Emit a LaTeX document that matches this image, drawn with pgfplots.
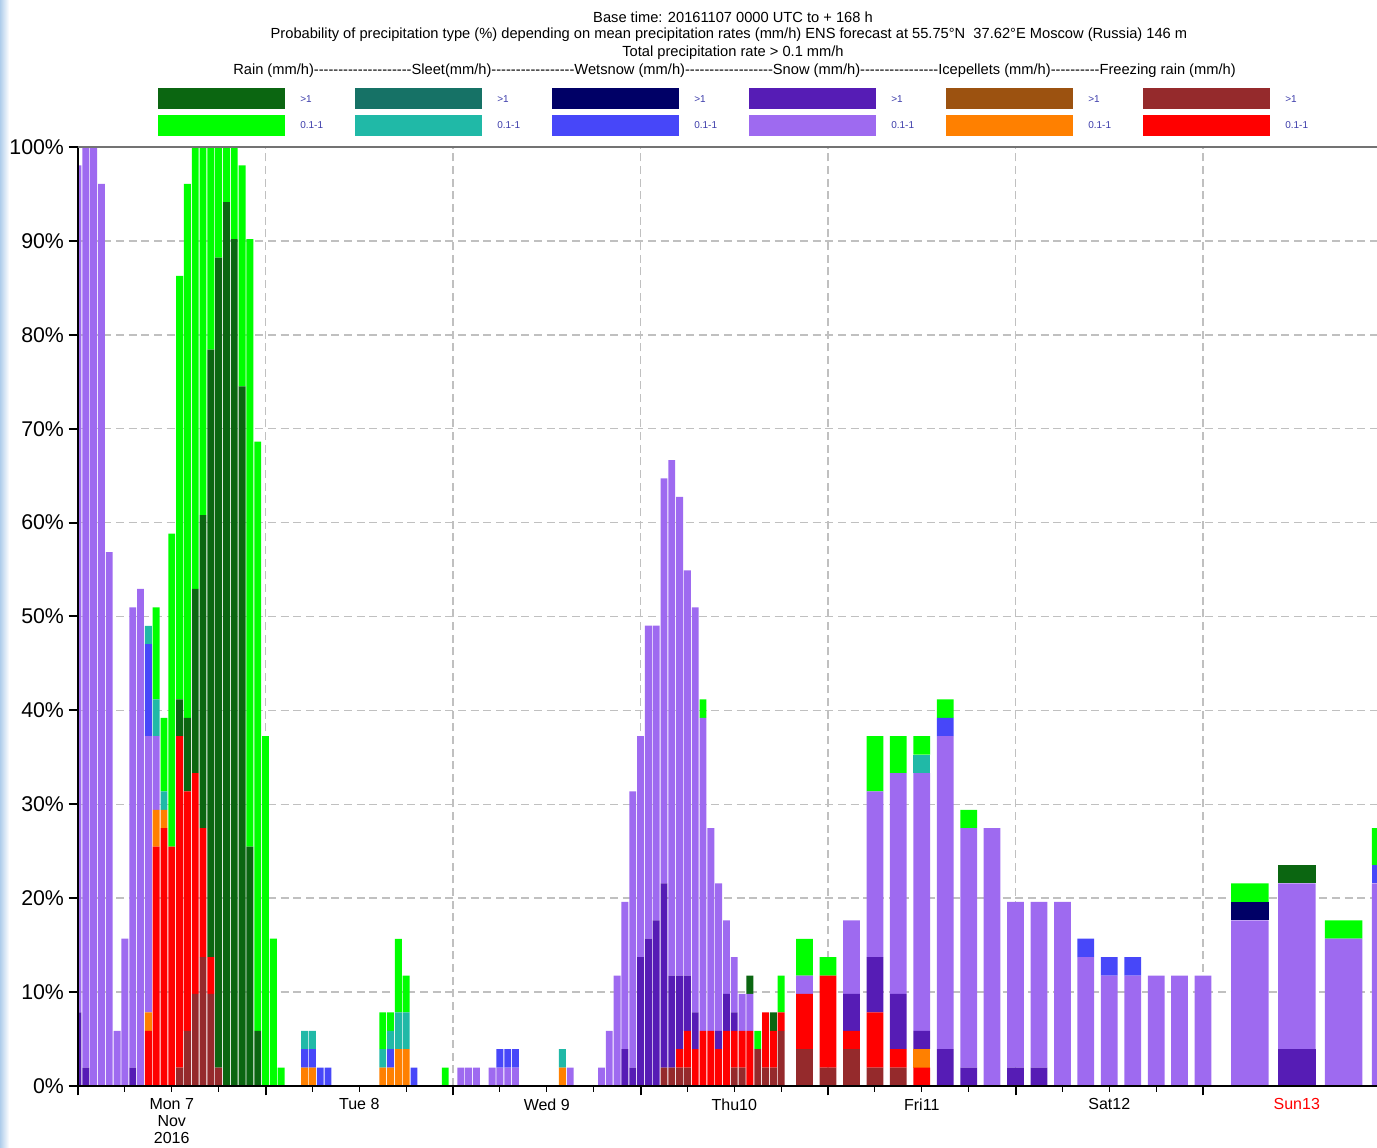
\documentclass[border=0pt]{standalone}
\usepackage{fontspec}
\setmainfont{Liberation Sans}
\usepackage{pgfplots}
\pgfplotsset{compat=1.18}
\usepackage{pgfplotstable}

\definecolor{cFRd}{HTML}{952A2C}
\definecolor{cFR}{HTML}{FF0000}
\definecolor{cIPd}{HTML}{9C5210}
\definecolor{cIP}{HTML}{FF8000}
\definecolor{cSNd}{HTML}{561CB5}
\definecolor{cSN}{HTML}{9E6AF0}
\definecolor{cWSd}{HTML}{000066}
\definecolor{cWS}{HTML}{4747F9}
\definecolor{cSLd}{HTML}{167266}
\definecolor{cSL}{HTML}{20B9A7}
\definecolor{cRAd}{HTML}{0B6611}
\definecolor{cRA}{HTML}{00FF00}
\definecolor{gridc}{RGB}{192,192,192}
\definecolor{legtxt}{RGB}{60,60,170}

\newcommand\dsh[1]{\foreach\i in {1,...,#1}{-\kern0pt}}

% hourly steps (percent of members)
\pgfplotstableread{
h FRd FR IPd IP SNd SN WSd WS SLd SL RAd RA
0 0 0 0 0 7.84 90.20 0 0 0 0 0 0
1 0 0 0 0 1.96 98.04 0 0 0 0 0 0
2 0 0 0 0 0 100 0 0 0 0 0 0
3 0 0 0 0 0 96.08 0 0 0 0 0 0
4 0 0 0 0 0 56.86 0 0 0 0 0 0
5 0 0 0 0 0 5.88 0 0 0 0 0 0
6 0 0 0 0 0 15.69 0 0 0 0 0 0
7 0 0 0 0 1.96 49.02 0 0 0 0 0 0
8 0 0 0 0 0 52.94 0 0 0 0 0 0
9 0 5.88 0 1.96 0 29.41 0 9.80 0 1.96 0 0
10 0 25.49 0 3.92 0 7.84 0 0 0 3.92 0 9.80
11 0 27.45 0 1.96 0 0 0 0 0 1.96 0 7.84
12 0 25.49 0 0 0 0 0 0 0 0 0 33.33
13 1.96 35.29 0 0 0 0 0 0 0 0 3.92 45.10
14 5.88 25.49 0 0 0 0 0 0 0 0 7.84 56.86
15 9.80 23.53 0 0 0 0 0 0 0 0 19.61 47.06
16 13.73 13.73 0 0 0 0 0 0 0 0 33.33 39.22
17 9.80 3.92 0 0 0 0 0 0 0 0 64.71 21.57
18 1.96 0 0 0 0 0 0 0 0 0 86.27 11.76
19 0 0 0 0 0 0 0 0 0 0 94.12 5.88
20 0 0 0 0 0 0 0 0 0 0 90.20 9.80
21 0 0 0 0 0 0 0 0 0 0 74.51 23.53
22 0 0 0 0 0 0 0 0 0 0 25.49 64.71
23 0 0 0 0 0 0 0 0 0 0 5.88 62.75
24 0 0 0 0 0 0 0 0 0 0 0 37.25
25 0 0 0 0 0 0 0 0 0 0 0 15.69
26 0 0 0 0 0 0 0 0 0 0 0 1.96
29 0 0 0 1.96 0 0 0 1.96 0 1.96 0 0
30 0 0 0 1.96 0 0 0 1.96 0 1.96 0 0
31 0 0 0 0 0 0 0 1.96 0 0 0 0
32 0 0 0 0 0 0 0 1.96 0 0 0 0
39 0 0 0 1.96 0 0 0 0 0 1.96 0 3.92
40 0 0 0 1.96 0 0 0 1.96 0 1.96 0 1.96
41 0 0 0 3.92 0 0 0 0 0 3.92 0 7.84
42 0 0 0 3.92 0 0 0 0 0 3.92 0 3.92
43 0 0 0 0 0 0 0 1.96 0 0 0 0
47 0 0 0 0 0 0 0 0 0 0 0 1.96
49 0 0 0 0 0 1.96 0 0 0 0 0 0
50 0 0 0 0 0 1.96 0 0 0 0 0 0
51 0 0 0 0 0 1.96 0 0 0 0 0 0
53 0 0 0 0 0 1.96 0 0 0 0 0 0
54 0 0 0 0 0 1.96 0 1.96 0 0 0 0
55 0 0 0 0 0 1.96 0 1.96 0 0 0 0
56 0 0 0 0 0 1.96 0 1.96 0 0 0 0
62 0 0 0 1.96 0 0 0 0 0 1.96 0 0
63 0 0 0 0 0 1.96 0 0 0 0 0 0
67 0 0 0 0 0 1.96 0 0 0 0 0 0
68 0 0 0 0 0 5.88 0 0 0 0 0 0
69 0 0 0 0 0 11.76 0 0 0 0 0 0
70 0 0 0 0 3.92 15.69 0 0 0 0 0 0
71 0 0 0 0 1.96 29.41 0 0 0 0 0 0
72 0 0 0 0 13.73 23.53 0 0 0 0 0 0
73 0 0 0 0 15.69 33.33 0 0 0 0 0 0
74 0 0 0 0 17.65 31.37 0 0 0 0 0 0
75 1.96 0 0 0 19.61 43.14 0 0 0 0 0 0
76 1.96 0 0 0 9.80 54.90 0 0 0 0 0 0
77 1.96 1.96 0 0 7.84 50.98 0 0 0 0 0 0
78 1.96 3.92 0 0 5.88 43.14 0 0 0 0 0 0
79 0 3.92 0 0 3.92 43.14 0 0 0 0 0 0
80 0 5.88 0 0 0 33.33 0 0 0 0 0 1.96
81 0 5.88 0 0 0 21.57 0 0 0 0 0 0
82 0 3.92 0 0 1.96 15.69 0 0 0 0 0 0
83 0 5.88 0 0 3.92 7.84 0 0 0 0 0 0
84 1.96 3.92 0 0 1.96 5.88 0 0 0 0 0 0
85 1.96 3.92 0 0 0 3.92 0 0 0 0 0 0
86 0 5.88 0 0 0 3.92 0 0 0 0 1.96 0
87 3.92 0 0 0 0 0 0 0 0 0 0 1.96
88 1.96 5.88 0 0 0 0 0 0 0 0 0 0
89 1.96 3.92 0 0 0 0 0 0 0 0 1.96 0
90 5.88 1.96 0 0 0 0 0 0 0 0 0 3.92
}\hourly

% 3-hourly steps
\pgfplotstableread{
h FRd FR IPd IP SNd SN WSd WS SLd SL RAd RA
93 3.92 5.88 0 0 0 1.96 0 0 0 0 0 3.92
96 1.96 9.80 0 0 0 0 0 0 0 0 0 1.96
99 3.92 1.96 0 0 3.92 7.84 0 0 0 0 0 0
102 1.96 5.88 0 0 5.88 17.65 0 0 0 0 0 5.88
105 1.96 1.96 0 0 5.88 23.53 0 0 0 0 0 3.92
108 0 1.96 0 1.96 1.96 27.45 0 0 0 1.96 0 1.96
111 0 0 0 0 3.92 33.33 0 1.96 0 0 0 1.96
114 0 0 0 0 1.96 25.49 0 0 0 0 0 1.96
117 0 0 0 0 0 27.45 0 0 0 0 0 0
120 0 0 0 0 1.96 17.65 0 0 0 0 0 0
123 0 0 0 0 1.96 17.65 0 0 0 0 0 0
126 0 0 0 0 0 19.61 0 0 0 0 0 0
129 0 0 0 0 0 13.73 0 1.96 0 0 0 0
132 0 0 0 0 0 11.76 0 1.96 0 0 0 0
135 0 0 0 0 0 11.76 0 1.96 0 0 0 0
138 0 0 0 0 0 11.76 0 0 0 0 0 0
141 0 0 0 0 0 11.76 0 0 0 0 0 0
144 0 0 0 0 0 11.76 0 0 0 0 0 0
}\threehourly

% 6-hourly steps
\pgfplotstableread{
h FRd FR IPd IP SNd SN WSd WS SLd SL RAd RA
150 0 0 0 0 0 17.65 1.96 0 0 0 0 1.96
156 0 0 0 0 3.92 17.65 0 0 0 0 1.96 0
162 0 0 0 0 0 15.69 0 0 0 0 0 1.96
168 0 0 0 0 0 21.57 0 1.96 0 0 0 3.92
}\sixhourly

\newcommand\stackall[1]{%
  \addplot[fill=cFRd] table[x=h,y=FRd]{#1};
  \addplot[fill=cFR]  table[x=h,y=FR]{#1};
  \addplot[fill=cIPd] table[x=h,y=IPd]{#1};
  \addplot[fill=cIP]  table[x=h,y=IP]{#1};
  \addplot[fill=cSNd] table[x=h,y=SNd]{#1};
  \addplot[fill=cSN]  table[x=h,y=SN]{#1};
  \addplot[fill=cWSd] table[x=h,y=WSd]{#1};
  \addplot[fill=cWS]  table[x=h,y=WS]{#1};
  \addplot[fill=cSLd] table[x=h,y=SLd]{#1};
  \addplot[fill=cSL]  table[x=h,y=SL]{#1};
  \addplot[fill=cRAd] table[x=h,y=RAd]{#1};
  \addplot[fill=cRA]  table[x=h,y=RA]{#1};
}

\pgfplotsset{
  base/.style={scale only axis, width=974.25pt, height=704.25pt,
    xmin=0, xmax=166.27, ymin=0, ymax=100,
    at={(58.5pt,46.5pt)}, anchor=south west},
  bars/.style={base, ybar stacked, bar width=#1,
    every axis plot/.append style={draw=none}},
}

\begin{document}
\begin{tikzpicture}
\path[use as bounding box] (0,0) rectangle (1032.75pt,861pt);
\begin{scope}[x=0.75pt,y=-0.75pt,yshift=861pt]
  \shade[left color={rgb,255:red,175;green,205;blue,235}, right color=white] (0,0) rectangle (9,1148);
  \begin{scope}[font=\fontsize{11}{12}\selectfont]
    \node at (733,17) {Base time: 20161107 0000 UTC to + 168 h};
    \node at (729,35) {Probability of precipitation type (\%) depending on mean precipitation rates (mm/h) ENS forecast at 55.75°N\ \ 37.62°E Moscow (Russia) 146 m};
    \node at (733,53) {Total precipitation rate > 0.1 mm/h};
    \node at (734.5,71) {Rain (mm/h)\dsh{20}Sleet(mm/h)\dsh{17}Wetsnow (mm/h)\dsh{18}Snow (mm/h)\dsh{16}Icepellets (mm/h)\dsh{10}Freezing rain (mm/h)};
  \end{scope}
  \foreach \i/\cd/\cl in {0/cRAd/cRA, 1/cSLd/cSL, 2/cWSd/cWS, 3/cSNd/cSN, 4/cIPd/cIP, 5/cFRd/cFR}{
    \pgfmathsetmacro\xo{158+197*\i}
    \fill[\cd] (\xo,88) rectangle ++(127,21);
    \fill[\cl] (\xo,115) rectangle ++(127,21);
    \node[anchor=west, inner sep=0pt, text=legtxt, font=\fontsize{7.5}{8}\selectfont] at (\xo+142,99) {>1};
    \node[anchor=west, inner sep=0pt, text=legtxt, font=\fontsize{7.5}{8}\selectfont] at (\xo+142,125.5) {0.1-1};
  }
\end{scope}

% grid + hourly bars
\begin{axis}[bars=0.88,
  axis line style={draw=none}, major tick length=0pt, minor tick length=0pt,
  xtick={24,48,...,144}, ytick={10,20,...,90},
  xticklabels={}, yticklabels={},
  grid=major, major grid style={gridc, line width=1.1pt, dash pattern=on 6pt off 3.5pt}]
  \stackall{\hourly}
\end{axis}
% 3-hourly bars
\begin{axis}[bars=2.15, hide axis]
  \stackall{\threehourly}
\end{axis}
% 6-hourly bars
\begin{axis}[bars=4.8, hide axis]
  \stackall{\sixhourly}
\end{axis}
% axis lines, ticks, labels
\begin{axis}[base,
  axis x line*=bottom, axis y line*=left,
  axis line style={black, line width=1.5pt},
  tick align=outside,
  xtick={0,24,...,144}, xticklabels={},
  minor x tick num=3,
  major tick length=7pt, minor tick length=4.5pt,
  every major tick/.append style={black, line width=1.5pt},
  every minor tick/.append style={black, line width=0.8pt},
  ytick={0,10,...,100},
  yticklabels={0\%,10\%,20\%,30\%,40\%,50\%,60\%,70\%,80\%,90\%,100\%},
  yticklabel style={font=\fontsize{16}{16}\selectfont, xshift=0pt},
  extra x ticks={12,36,60,84,108,132,156},
  extra x tick labels={{Mon 7\\Nov\\2016},{Tue 8},{Wed 9},{Thu10},{Fri11},{Sat12},{\textcolor{red}{Sun13}}},
  extra x tick style={major tick length=0pt, grid=none,
    xticklabel style={align=center, font=\fontsize{12}{12.75}\selectfont, yshift=-6pt}},
  clip=false]
  \draw[black!55, line width=1.5pt] (axis cs:0,100) -- (axis cs:166.27,100);
\end{axis}
\end{tikzpicture}
\end{document}
